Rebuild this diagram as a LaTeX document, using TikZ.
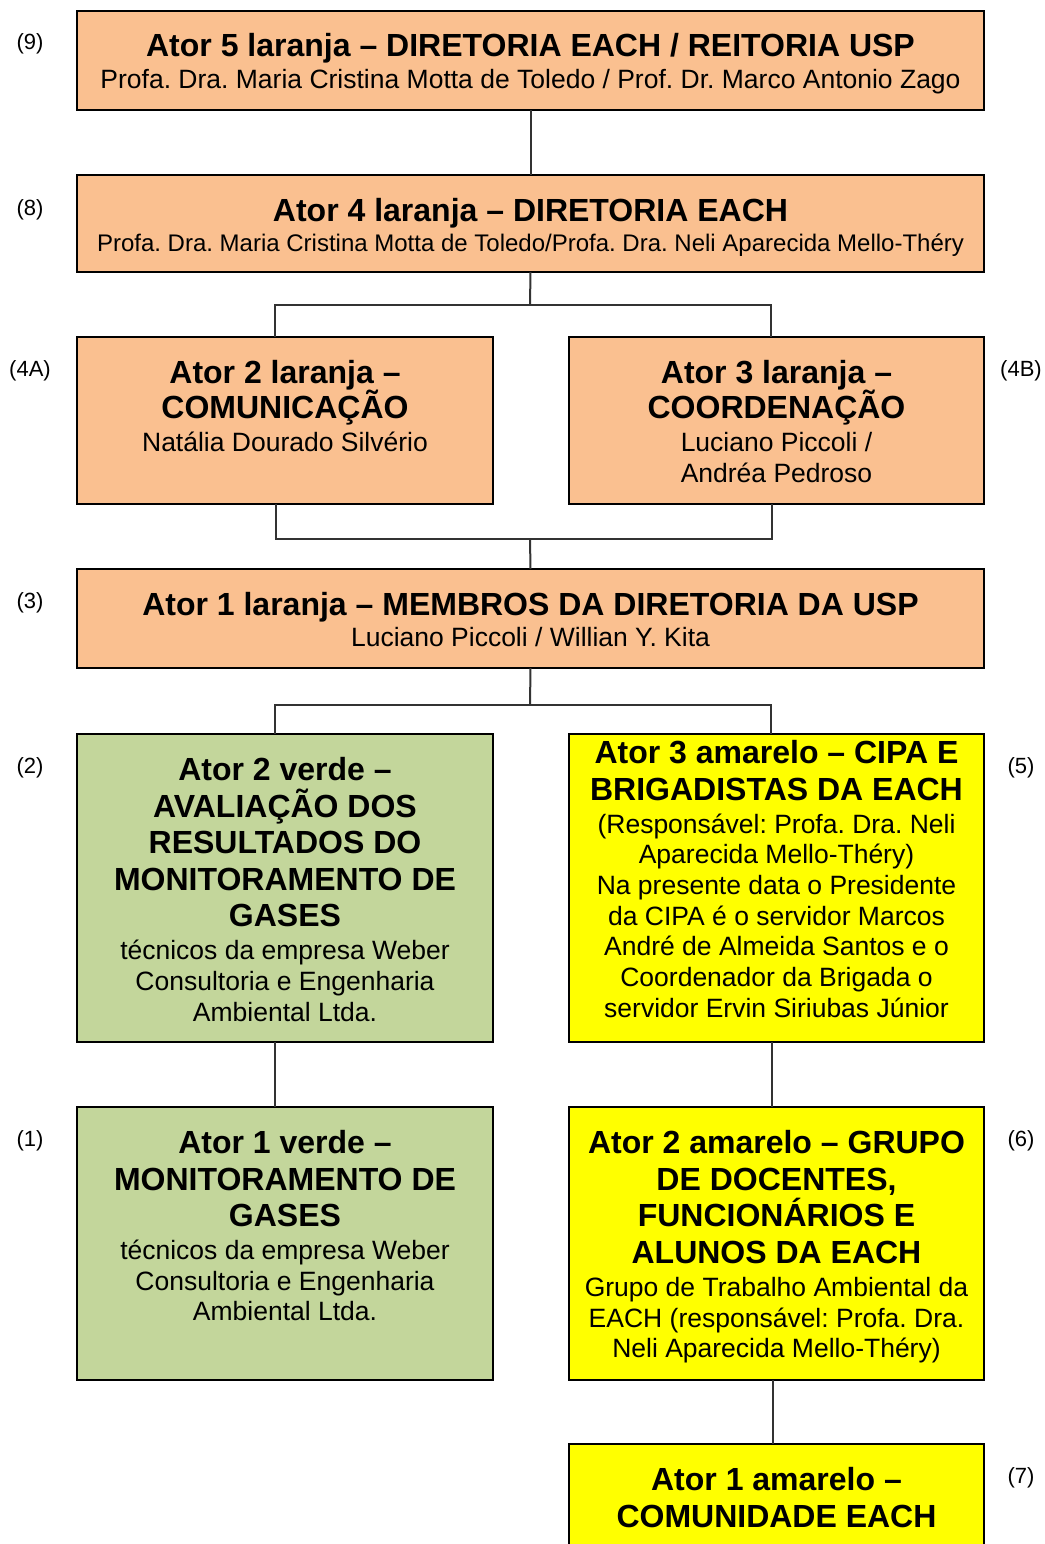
\documentclass[tikz,border=0pt]{standalone}
\usepackage{fontspec}
\setmainfont{Liberation Sans}
\frenchspacing
\definecolor{orangefill}{HTML}{FAC090}
\definecolor{greenfill}{HTML}{C3D69B}
\definecolor{yellowfill}{HTML}{FFFF00}
\begin{document}
\begin{tikzpicture}[x=1pt,y=-1pt,
  actorbox/.style={draw=black, line width=2.4pt, inner sep=0pt, outer sep=0pt, anchor=north west},
  orangebox/.style={actorbox, fill=orangefill},
  greenbox/.style={actorbox, fill=greenfill},
  yellowbox/.style={actorbox, fill=yellowfill},
  ttl/.style={anchor=base, inner sep=0pt, yshift=-11.5pt, font=\fontsize{32}{36}\selectfont\bfseries\frenchspacing},
  sub/.style={anchor=base, inner sep=0pt, yshift=-9.5pt, font=\fontsize{26.5}{31}\selectfont\frenchspacing},
  subsmall/.style={anchor=base, inner sep=0pt, yshift=-8.6pt, font=\fontsize{24}{28}\selectfont\frenchspacing},
  lvl/.style={anchor=base, inner sep=0pt, yshift=-8pt, font=\fontsize{22}{26}\selectfont},
  conn/.style={draw=black!80, line width=2pt}]
\useasboundingbox (0,0) rectangle (1044,1544);
\clip (0,0) rectangle (1044,1544);

% boxes
\node[orangebox, minimum width=907pt, minimum height=99pt] (b9) at (77,11) {};
\node[orangebox, minimum width=907pt, minimum height=97pt] (b8) at (77,175) {};
\node[orangebox, minimum width=416pt, minimum height=167pt] (b4a) at (77,337) {};
\node[orangebox, minimum width=415pt, minimum height=167pt] (b4b) at (569,337) {};
\node[orangebox, minimum width=907pt, minimum height=99pt] (b3) at (77,569) {};
\node[greenbox, minimum width=416pt, minimum height=308pt] (b2) at (77,734) {};
\node[yellowbox, minimum width=415pt, minimum height=308pt] (b5) at (569,734) {};
\node[greenbox, minimum width=416pt, minimum height=273pt] (b1) at (77,1107) {};
\node[yellowbox, minimum width=415pt, minimum height=273pt] (b6) at (569,1107) {};
\node[yellowbox, minimum width=415pt, minimum height=150pt] (b7) at (569,1444) {};

% junctions
\coordinate (j1) at (530,305);
\coordinate (j2) at (530,539);
\coordinate (j3) at (530,705);

% connectors
\draw[conn] (b9.south) -- (b8.north);
\draw[conn] (b8.south) -- (j1);
\draw[conn] ([xshift=-10pt]b4a.north) |- (j1) -| ([xshift=-6pt]b4b.north);
\draw[conn] ([xshift=-9pt]b4a.south) |- (j2) -| ([xshift=-5pt]b4b.south);
\draw[conn] (j2) -- (b3.north);
\draw[conn] (b3.south) -- (j3);
\draw[conn] ([xshift=-10pt]b2.north) |- (j3) -| ([xshift=-6pt]b5.north);
\draw[conn] ([xshift=-10pt]b2.south) -- ([xshift=-10pt]b1.north);
\draw[conn] ([xshift=-5pt]b5.south) -- ([xshift=-5pt]b6.north);
\draw[conn] ([xshift=-4pt]b6.south) -- ([xshift=-4pt]b7.north);

% box 9
\node[ttl] (t9a) at (530.5,45) {Ator 5 laranja – DIRETORIA EACH / REITORIA USP};
\node[sub] (t9b) at (530.5,79) {Profa. Dra. Maria Cristina Motta de Toledo / Prof. Dr. Marco Antonio Zago};
% box 8
\node[ttl] (t8a) at (530.5,210) {Ator 4 laranja – DIRETORIA EACH};
\node[subsmall] (t8b) at (530.5,243) {Profa. Dra. Maria Cristina Motta de Toledo/Profa. Dra. Neli Aparecida Mello-Théry};
% box 4A
\node[ttl] (t4aa) at (285,372) {Ator 2 laranja –};
\node[ttl] (t4ab) at (285,407) {COMUNICAÇÃO};
\node[sub] (t4ac) at (285,442) {Natália Dourado Silvério};
% box 4B
\node[ttl] (t4ba) at (776.5,372) {Ator 3 laranja –};
\node[ttl] (t4bb) at (776.5,407) {COORDENAÇÃO};
\node[sub] (t4bc) at (776.5,442) {Luciano Piccoli /};
\node[sub] (t4bd) at (776.5,473) {Andréa Pedroso};
% box 3
\node[ttl] (t3a) at (530.5,604) {Ator 1 laranja – MEMBROS DA DIRETORIA DA USP};
\node[sub] (t3b) at (530.5,637) {Luciano Piccoli / Willian Y. Kita};
% box 2
\node[ttl] (t2a) at (285,769) {Ator 2 verde –};
\node[ttl] (t2b) at (285,806) {AVALIAÇÃO DOS};
\node[ttl] (t2c) at (285,842) {RESULTADOS DO};
\node[ttl] (t2d) at (285,879) {MONITORAMENTO DE};
\node[ttl] (t2e) at (285,915) {GASES};
\node[sub] (t2f) at (285,950) {técnicos da empresa Weber};
\node[sub] (t2g) at (285,981) {Consultoria e Engenharia};
\node[sub] (t2h) at (285,1012) {Ambiental Ltda.};
% box 5
\node[ttl] (t5a) at (776.5,752) {Ator 3 amarelo – CIPA E};
\node[ttl] (t5b) at (776.5,789) {BRIGADISTAS DA EACH};
\node[sub] (t5c) at (776.5,824) {(Responsável: Profa. Dra. Neli};
\node[sub] (t5d) at (776.5,854) {Aparecida Mello-Théry)};
\node[sub] (t5e) at (776.5,885) {Na presente data o Presidente};
\node[sub] (t5f) at (776.5,916) {da CIPA é o servidor Marcos};
\node[sub] (t5g) at (776.5,946) {André de Almeida Santos e o};
\node[sub] (t5h) at (776.5,977) {Coordenador da Brigada o};
\node[sub] (t5i) at (776.5,1008) {servidor Ervin Siriubas Júnior};
% box 1
\node[ttl] (t1a) at (285,1142) {Ator 1 verde –};
\node[ttl] (t1b) at (285,1179) {MONITORAMENTO DE};
\node[ttl] (t1c) at (285,1215) {GASES};
\node[sub] (t1d) at (285,1250) {técnicos da empresa Weber};
\node[sub] (t1e) at (285,1281) {Consultoria e Engenharia};
\node[sub] (t1f) at (285,1311) {Ambiental Ltda.};
% box 6
\node[ttl] (t6a) at (776.5,1142) {Ator 2 amarelo – GRUPO};
\node[ttl] (t6b) at (776.5,1179) {DE DOCENTES,};
\node[ttl] (t6c) at (776.5,1215) {FUNCIONÁRIOS E};
\node[ttl] (t6d) at (776.5,1252) {ALUNOS DA EACH};
\node[sub] (t6e) at (776.5,1287) {Grupo de Trabalho Ambiental da};
\node[sub] (t6f) at (776.5,1318) {EACH (responsável: Profa. Dra.};
\node[sub] (t6g) at (776.5,1348) {Neli Aparecida Mello-Théry)};
% box 7
\node[ttl] (t7a) at (776.5,1479) {Ator 1 amarelo –};
\node[ttl] (t7b) at (776.5,1516) {COMUNIDADE EACH};

% level labels
\node[lvl] (l9) at (30,42) {(9)};
\node[lvl] (l8) at (30,207) {(8)};
\node[lvl] (l4a) at (30,368) {(4A)};
\node[lvl] (l4b) at (1021,368) {(4B)};
\node[lvl] (l3) at (30,600) {(3)};
\node[lvl] (l2) at (30,765) {(2)};
\node[lvl] (l5) at (1021,765) {(5)};
\node[lvl] (l1) at (30,1138) {(1)};
\node[lvl] (l6) at (1021,1138) {(6)};
\node[lvl] (l7) at (1021,1475) {(7)};
\end{tikzpicture}
\end{document}
